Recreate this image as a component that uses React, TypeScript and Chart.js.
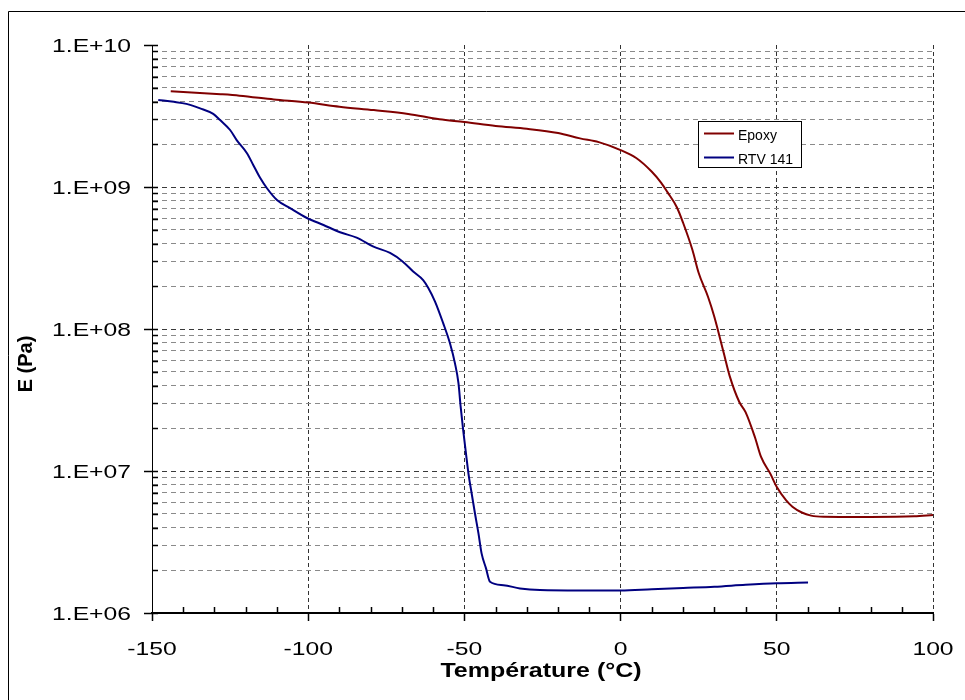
import React, { useEffect, useRef } from "react";
import { Chart, registerables } from "chart.js";

Chart.register(...registerables);

// ---- Data ----
const epoxyTemp = [-144, -128, -122, -111, -100, -90, -79, -68, -58, -50, -40, -30, -20, -13, -7, 0, 5, 10, 13, 15, 18, 20, 23, 25, 28, 30, 33, 35, 38, 40, 43, 45, 48, 50, 53, 55, 58, 61, 65, 70, 80, 94, 100];
const epoxyE = [4.72e9, 4.5e9, 4.4e9, 4.14e9, 3.93e9, 3.68e9, 3.48e9, 3.27e9, 3.0e9, 2.87e9, 2.69e9, 2.57e9, 2.4e9, 2.2e9, 2.07e9, 1.82e9, 1.6e9, 1.28e9, 1.07e9, 9.2e8, 7.2e8, 5.6e8, 3.6e8, 2.48e8, 1.68e8, 1.22e8, 6.8e7, 4.6e7, 3.06e7, 2.6e7, 1.73e7, 1.25e7, 9.5e6, 7.7e6, 6.2e6, 5.6e6, 5.1e6, 4.85e6, 4.76e6, 4.75e6, 4.75e6, 4.8e6, 4.9e6];

const rtvTemp = [-148, -143, -139, -134.6, -130.4, -128.2, -125, -122.9, -119.6, -117.6, -115.4, -113.2, -110, -105.8, -100.4, -95.1, -89.8, -84.5, -79.1, -73.8, -69.7, -66.4, -63.2, -61.6, -59.4, -56.8, -54.6, -53, -51.9, -51.2, -50.4, -49.5, -48.7, -47.7, -46.6, -45.5, -44.5, -43.1, -41.8, -37.5, -32.2, -25.8, -13, 0, 10, 20, 30, 40, 50, 60];
const rtvE = [4.1e9, 3.98e9, 3.85e9, 3.58e9, 3.27e9, 2.96e9, 2.52e9, 2.14e9, 1.73e9, 1.43e9, 1.16e9, 9.8e8, 8.1e8, 7.1e8, 6.05e8, 5.4e8, 4.8e8, 4.4e8, 3.8e8, 3.43e8, 2.98e8, 2.54e8, 2.21e8, 1.95e8, 1.56e8, 1.1e8, 7.9e7, 5.7e7, 4.15e7, 2.84e7, 1.95e7, 1.33e7, 9.6e6, 7.0e6, 5.0e6, 3.64e6, 2.63e6, 2.07e6, 1.66e6, 1.57e6, 1.49e6, 1.45e6, 1.44e6, 1.44e6, 1.47e6, 1.5e6, 1.53e6, 1.58e6, 1.62e6, 1.64e6];

const seriesNames = ["Epoxy", "RTV 141"];
const seriesColors = ["#800000", "#000080"];

const xMajorTicks = [-150, -100, -50, 0, 50, 100];
const xMinorTicks = [-140, -130, -120, -110, -90, -80, -70, -60, -40, -30, -20, -10, 10, 20, 30, 40, 60, 70, 80, 90];
const yDecades = [1e6, 1e7, 1e8, 1e9, 1e10];
const yTickLabels = ["1.E+06", "1.E+07", "1.E+08", "1.E+09", "1.E+10"];
const yMinorMultipliers = [2, 3, 4, 5, 6, 7, 8, 9];

const xTitle = "Température (°C)";
const yTitle = "E (Pa)";

const FONT = "'Liberation Sans', Arial, sans-serif";

function stretchText(ctx: CanvasRenderingContext2D, text: string, x: number, y: number, align: CanvasTextAlign, font: string, sx: number) {
  ctx.save();
  ctx.font = font;
  ctx.textAlign = align;
  ctx.textBaseline = "alphabetic";
  ctx.fillStyle = "#000";
  ctx.translate(x, y);
  ctx.scale(sx, 1);
  ctx.fillText(text, 0, 0);
  ctx.restore();
}

const decorPlugin = {
  id: "decor",
  afterDraw(chart: any) {
    const ctx: CanvasRenderingContext2D = chart.ctx;
    const xs = chart.scales.x;
    const ys = chart.scales.y;
    const { left, bottom } = chart.chartArea;
    ctx.save();

    // outer frame
    ctx.strokeStyle = "#000";
    ctx.lineWidth = 1;
    ctx.setLineDash([]);
    ctx.beginPath();
    ctx.moveTo(8.5, 700);
    ctx.lineTo(8.5, 11.5);
    ctx.lineTo(965, 11.5);
    ctx.stroke();

    // x minor ticks (inside)
    ctx.lineWidth = 1.5;
    ctx.beginPath();
    xMinorTicks.forEach((v) => {
      const px = Math.round(xs.getPixelForValue(v)) + 0.5;
      ctx.moveTo(px, bottom);
      ctx.lineTo(px, bottom - 6);
    });
    ctx.stroke();

    // y ticks inside
    ctx.beginPath();
    yDecades.forEach((d, i) => {
      const vals = [d];
      if (i < yDecades.length - 1) yMinorMultipliers.forEach((m) => vals.push(d * m));
      vals.forEach((v) => {
        const py = Math.round(ys.getPixelForValue(v)) + 0.5;
        ctx.moveTo(left, py);
        ctx.lineTo(left + 6, py);
      });
    });
    ctx.stroke();

    // y tick labels
    yDecades.forEach((d, i) => {
      const py = ys.getPixelForValue(d);
      stretchText(ctx, yTickLabels[i], 131, py + 7, "right", `19px ${FONT}`, 1.3);
    });
    // x tick labels
    xMajorTicks.forEach((v) => {
      const px = xs.getPixelForValue(v);
      stretchText(ctx, String(v), px, 655, "center", `19px ${FONT}`, 1.3);
    });
    // axis titles
    stretchText(ctx, xTitle, 541, 677, "center", `bold 20px ${FONT}`, 1.25);
    ctx.save();
    ctx.translate(32, 364);
    ctx.rotate(-Math.PI / 2);
    ctx.font = `bold 20px ${FONT}`;
    ctx.textAlign = "center";
    ctx.textBaseline = "alphabetic";
    ctx.fillStyle = "#000";
    ctx.fillText(yTitle, 0, 0);
    ctx.restore();

    // legend
    ctx.fillStyle = "#fff";
    ctx.fillRect(698, 121, 103, 46);
    ctx.strokeStyle = "#000";
    ctx.lineWidth = 1;
    ctx.strokeRect(698.5, 121.5, 103, 46);
    const rows = [133.5, 157.5];
    seriesNames.forEach((name, i) => {
      ctx.strokeStyle = seriesColors[i];
      ctx.lineWidth = 2;
      ctx.beginPath();
      ctx.moveTo(704, rows[i]);
      ctx.lineTo(734, rows[i]);
      ctx.stroke();
      ctx.fillStyle = "#000";
      ctx.font = `14px ${FONT}`;
      ctx.textAlign = "left";
      ctx.textBaseline = "alphabetic";
      ctx.fillText(name, 738, rows[i] + 6.5);
    });

    ctx.restore();
  },
};

export default function App() {
  const ref = useRef<HTMLCanvasElement | null>(null);

  useEffect(() => {
    if (!ref.current) return;
    const yTickValues: { value: number; major: boolean }[] = [];
    yDecades.forEach((d, i) => {
      yTickValues.push({ value: d, major: true });
      if (i < yDecades.length - 1) yMinorMultipliers.forEach((m) => yTickValues.push({ value: d * m, major: false }));
    });

    const chart = new Chart(ref.current, {
      type: "line",
      data: {
        datasets: [
          {
            label: seriesNames[0],
            data: epoxyTemp.map((t, i) => ({ x: t, y: epoxyE[i] })),
            borderColor: seriesColors[0],
            borderWidth: 2,
            pointRadius: 0,
            fill: false,
            cubicInterpolationMode: "monotone",
          },
          {
            label: seriesNames[1],
            data: rtvTemp.map((t, i) => ({ x: t, y: rtvE[i] })),
            borderColor: seriesColors[1],
            borderWidth: 2,
            pointRadius: 0,
            fill: false,
            cubicInterpolationMode: "monotone",
          },
        ],
      },
      options: {
        responsive: false,
        animation: false,
        devicePixelRatio: 1,
        layout: { padding: { left: 0, right: 32, top: 45, bottom: 0 } },
        plugins: { legend: { display: false }, tooltip: { enabled: false }, title: { display: false } },
        scales: {
          x: {
            type: "linear",
            min: -150,
            max: 100,
            afterBuildTicks: (scale: any) => {
              scale.ticks = xMajorTicks.map((v) => ({ value: v }));
            },
            afterFit: (scale: any) => {
              scale.height = 87;
            },
            ticks: { display: false },
            grid: {
              color: (c: any) => (c.tick && c.tick.value === -150 ? "rgba(0,0,0,0)" : "#333333"),
              lineWidth: 1,
              tickLength: 8,
              tickColor: "#000",
              tickWidth: 1.5,
            },
            border: { display: true, color: "#000", width: 2, dash: [4, 3] },
          },
          y: {
            type: "logarithmic",
            min: 1e6,
            max: 1e10,
            afterBuildTicks: (scale: any) => {
              scale.ticks = yTickValues.map((t) => ({ ...t }));
            },
            afterFit: (scale: any) => {
              scale.width = 152;
            },
            ticks: { display: false, autoSkip: false },
            grid: {
              color: (c: any) => {
                const v = c.tick ? c.tick.value : 0;
                if (v === 1e10 || v === 1e6) return "rgba(0,0,0,0)";
                return c.tick && c.tick.major ? "#3a3a3a" : "#8a8a8a";
              },
              lineWidth: 1,
              tickLength: 8,
              tickColor: (c: any) => (c.tick && c.tick.major ? "#000" : "rgba(0,0,0,0)"),
              tickWidth: 1.5,
            },
            border: { display: true, color: "#000", width: 1, dash: [5, 4] },
          },
        },
      },
      plugins: [decorPlugin],
    } as any);

    return () => chart.destroy();
  }, []);

  return (
    <div style={{ position: "absolute", left: 0, top: 0, width: 965, height: 700, background: "#fff" }}>
      <canvas ref={ref} width={965} height={700} style={{ width: 965, height: 700, display: "block" }} />
    </div>
  );
}
